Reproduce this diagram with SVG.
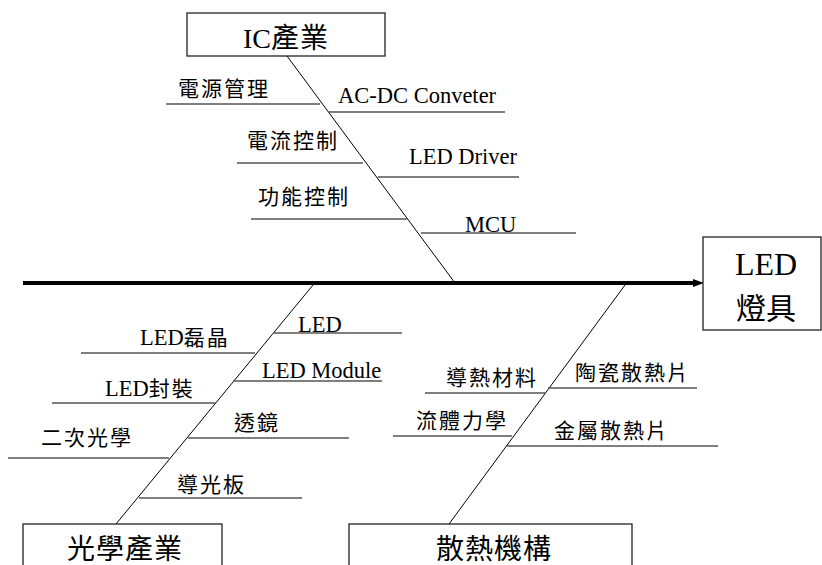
<svg xmlns="http://www.w3.org/2000/svg" width="822" height="565" viewBox="0 0 822 565">
<defs>
<style>
.box{fill:#fff;stroke:#222;stroke-width:1.3}
.bone{stroke:#000;stroke-width:1;fill:none}
.sub{stroke:#555;stroke-width:1.5;fill:none}
text{font-family:'Liberation Serif','Noto Sans CJK TC',serif;fill:#000}
.lbl{font-size:22.5px}
.cjk{font-size:21px;letter-spacing:2px}
.big{font-size:28px}
</style>
</defs>
<rect width="822" height="565" fill="#fff"/>
<g id="connectors">
<line x1="23" y1="283" x2="695" y2="283" stroke="#000" stroke-width="4"/>
<polygon points="693,279 704,283 693,287" fill="#000"/>
<line class="bone" x1="287" y1="56" x2="455" y2="283"/>
<line class="bone" x1="313" y1="285" x2="116" y2="524"/>
<line class="bone" x1="625" y1="285" x2="449" y2="524"/>
<line class="sub" x1="166" y1="104" x2="320" y2="104"/>
<line class="sub" x1="328" y1="112" x2="505" y2="112"/>
<line class="sub" x1="237" y1="163" x2="363" y2="163"/>
<line class="sub" x1="378" y1="177" x2="519" y2="177"/>
<line class="sub" x1="251" y1="219" x2="407" y2="219"/>
<line class="sub" x1="421" y1="233" x2="576" y2="233"/>
<line class="sub" x1="81" y1="353" x2="255" y2="353"/>
<line class="sub" x1="274" y1="333" x2="402" y2="333"/>
<line class="sub" x1="52" y1="403" x2="215" y2="403"/>
<line class="sub" x1="233" y1="381" x2="382" y2="381"/>
<line class="sub" x1="8" y1="458" x2="169" y2="458"/>
<line class="sub" x1="188" y1="438" x2="349" y2="438"/>
<line class="sub" x1="139" y1="498" x2="302" y2="498"/>
<line class="sub" x1="425" y1="393" x2="545" y2="393"/>
<line class="sub" x1="548" y1="388" x2="697" y2="388"/>
<line class="sub" x1="393" y1="436" x2="512" y2="436"/>
<line class="sub" x1="507" y1="446" x2="718" y2="446"/>
</g>
<g id="node-ic">
<rect class="box" x="187" y="13" width="198" height="43"/>
<text class="big" x="243" y="48">IC<tspan letter-spacing="1">產業</tspan></text>
</g>
<g id="node-led">
<rect class="box" x="703" y="237" width="118" height="93"/>
<text x="735" y="275" font-size="32">LED</text>
<text x="736" y="319" font-size="30">燈具</text>
</g>
<g id="node-optics">
<rect class="box" x="23" y="524" width="199" height="50"/>
<text class="big" x="67" y="559" letter-spacing="1">光學產業</text>
</g>
<g id="node-thermal">
<rect class="box" x="349" y="524" width="283" height="50"/>
<text class="big" x="436" y="559" letter-spacing="1">散熱機構</text>
</g>
<g id="labels-ic">
<text class="cjk" x="178" y="96">電源管理</text>
<text class="lbl" x="338" y="103">AC-DC Conveter</text>
<text class="cjk" x="247" y="147.5">電流控制</text>
<text class="lbl" x="409" y="164">LED Driver</text>
<text class="cjk" x="258" y="203.5">功能控制</text>
<text class="lbl" x="465" y="231.5">MCU</text>
</g>
<g id="labels-optics">
<text class="lbl" x="140" y="345">LED<tspan font-size="21" letter-spacing="2">磊晶</tspan></text>
<text class="lbl" x="298" y="331.5">LED</text>
<text class="lbl" x="105" y="396">LED<tspan font-size="21" letter-spacing="2">封裝</tspan></text>
<text class="lbl" x="262" y="378">LED Module</text>
<text class="cjk" x="41" y="445">二次光學</text>
<text class="cjk" x="234" y="430">透鏡</text>
<text class="cjk" x="177" y="491.5">導光板</text>
</g>
<g id="labels-thermal">
<text class="cjk" x="446" y="384.5">導熱材料</text>
<text class="cjk" x="575" y="380">陶瓷散熱片</text>
<text class="cjk" x="416" y="427.5">流體力學</text>
<text class="cjk" x="554" y="437.5">金屬散熱片</text>
</g>
</svg>
